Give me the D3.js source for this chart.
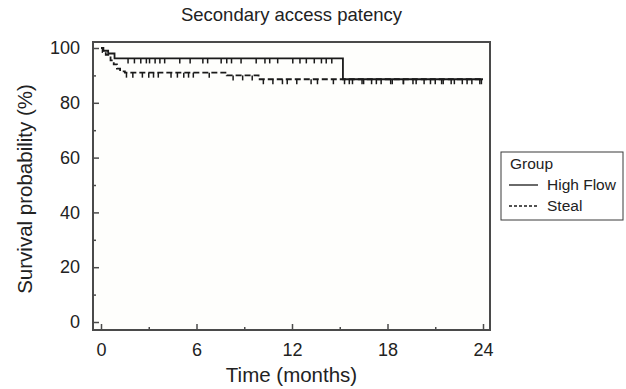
<!DOCTYPE html>
<html>
<head>
<meta charset="utf-8">
<script src="https://cdn.jsdelivr.net/npm/d3@7"></script>
<style>
  body { margin: 0; background: #fff; }
  text { font-family: "Liberation Sans", Arial, sans-serif; fill: #222; }
</style>
</head>
<body>
<div id="chartContainer"></div>
<script>
// Kaplan-Meier steps: [time (months), survival (%)]
var highFlowSteps = [[0, 100], [0.15, 99.0], [0.45, 98.0], [0.85, 96.2], [15.2, 88.6], [24, 88.6]];
var stealSteps    = [[0, 100], [0.1, 98.5], [0.3, 97.5], [0.6, 95.5], [0.8, 94.0], [1.0, 92.5],
                     [1.2, 91.5], [1.5, 91.0], [7.9, 90.0], [9.9, 88.6], [24, 88.6]];

// censoring marks (months)
var highFlowCensor = [1.7, 2.1, 2.5, 2.85, 3.05, 3.4, 3.7, 4.0, 4.95, 5.6, 6.4, 6.7, 7.55, 7.9, 8.2, 8.8,
                      9.75, 10.3, 10.6, 11.1, 12.05, 12.5, 12.9, 13.4, 13.85, 14.15, 14.5,
                      15.6, 16.5, 17.3, 18.2, 19.0, 19.8, 20.7, 21.5, 22.2, 23.0, 23.8];
var stealCensor = [1.6, 2.0, 2.6, 3.0, 3.3, 3.6, 4.4, 4.8, 5.2, 5.5, 5.8, 6.8, 8.3, 8.9, 9.5, 10.2, 10.8,
                   11.4, 11.7, 12.3, 13.2, 13.6, 14.6, 15.3, 15.8, 16.4, 17.0, 17.6, 18.3, 19.0, 19.6,
                   20.3, 21.0, 21.4, 22.0, 22.7, 23.3, 23.9];

var xTicks      = [0, 6, 12, 18, 24];
var xMinorTicks = [3, 9, 15, 21];
var yTicks      = [0, 20, 40, 60, 80, 100];
var yMinorTicks = [10, 30, 50, 70, 90];

var groups = ["High Flow", "Steal"];

var svg = d3.select("#chartContainer")
  .append("svg")
    .attr("width", 626)
    .attr("height", 389);

var x = d3.scaleLinear().domain([0, 24]).range([101, 483]);
var y = d3.scaleLinear().domain([0, 100]).range([322, 48]);

var frame = {left: 93, right: 490, top: 42, bottom: 330};

// plot background + frame
svg.append("rect")
  .attr("x", frame.left).attr("y", frame.top)
  .attr("width", frame.right - frame.left).attr("height", frame.bottom - frame.top)
  .attr("fill", "#fefefc")
  .attr("stroke", "#4a4a4a")
  .attr("stroke-width", 2);

// x axis (ticks point inward)
var gx = svg.append("g").attr("transform", "translate(0," + frame.bottom + ")");
gx.call(d3.axisBottom(x).tickValues(xTicks).tickSize(-6).tickPadding(13));
gx.append("g").call(d3.axisBottom(x).tickValues(xMinorTicks).tickSize(-3).tickFormat(""));
gx.selectAll(".domain").remove();
gx.selectAll("line").attr("stroke", "#4a4a4a").attr("stroke-width", 1.5);
gx.selectAll("text").attr("font-size", 18).attr("fill", "#222")
  .attr("font-family", "Liberation Sans, Arial, sans-serif");

// y axis
var gy = svg.append("g").attr("transform", "translate(" + frame.left + ",0)");
gy.call(d3.axisLeft(y).tickValues(yTicks).tickSize(-6).tickPadding(13));
gy.append("g").call(d3.axisLeft(y).tickValues(yMinorTicks).tickSize(-3).tickFormat(""));
gy.selectAll(".domain").remove();
gy.selectAll("line").attr("stroke", "#4a4a4a").attr("stroke-width", 1.5);
gy.selectAll("text").attr("font-size", 18).attr("fill", "#222")
  .attr("font-family", "Liberation Sans, Arial, sans-serif");

// step lines
var line = d3.line()
  .curve(d3.curveStepAfter)
  .x(function(d) { return x(d[0]); })
  .y(function(d) { return y(d[1]); });

function survivalAt(steps, t) {
  var v = steps[0][1];
  steps.forEach(function(s) { if (s[0] <= t) v = s[1]; });
  return v;
}

function drawCurve(steps, censor, dash) {
  svg.append("path")
    .datum(steps)
    .attr("fill", "none")
    .attr("stroke", "#1a1a1a")
    .attr("stroke-width", 1.8)
    .attr("stroke-dasharray", dash)
    .attr("d", line);
  svg.append("g").selectAll("line")
    .data(censor)
    .join("line")
      .attr("x1", function(d) { return x(d); })
      .attr("x2", function(d) { return x(d); })
      .attr("y1", function(d) { return y(survivalAt(steps, d)); })
      .attr("y2", function(d) { return y(survivalAt(steps, d)) + 5; })
      .attr("stroke", "#1a1a1a")
      .attr("stroke-width", 1.5);
}

drawCurve(highFlowSteps, highFlowCensor, null);
drawCurve(stealSteps, stealCensor, "6,3");

// titles
svg.append("text")
  .attr("x", (frame.left + frame.right) / 2).attr("y", 21)
  .attr("text-anchor", "middle").attr("font-size", 18.5)
  .text("Secondary access patency");

svg.append("text")
  .attr("x", (frame.left + frame.right) / 2).attr("y", 382)
  .attr("text-anchor", "middle").attr("font-size", 20.5)
  .text("Time (months)");

svg.append("text")
  .attr("transform", "translate(32,189) rotate(-90)")
  .attr("text-anchor", "middle").attr("font-size", 20.5)
  .text("Survival probability (%)");

// legend
var legend = svg.append("g").attr("transform", "translate(501,152)");
legend.append("rect")
  .attr("width", 122).attr("height", 68)
  .attr("fill", "#fff").attr("stroke", "#3a3a3a").attr("stroke-width", 1);
legend.append("text").attr("x", 9).attr("y", 17).attr("font-size", 15.5).text("Group");
groups.forEach(function(g, i) {
  var yy = 33 + i * 21;
  legend.append("line")
    .attr("x1", 8).attr("x2", 37).attr("y1", yy).attr("y2", yy)
    .attr("stroke", "#1a1a1a").attr("stroke-width", 1.3)
    .attr("stroke-dasharray", i === 0 ? null : "3,2");
  legend.append("text").attr("x", 46).attr("y", yy + 5).attr("font-size", 15.5).text(g);
});
</script>
</body>
</html>
